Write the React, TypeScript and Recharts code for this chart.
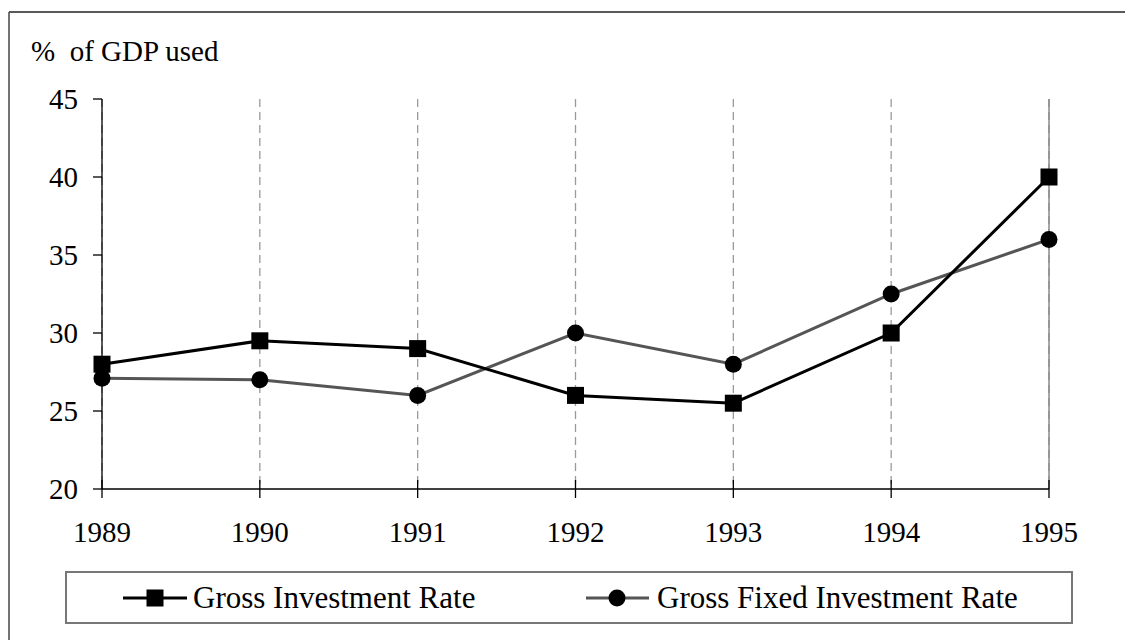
import React from "react";
import { LineChart, Line, XAxis, YAxis, CartesianGrid, ReferenceLine } from "recharts";

const years = ["1989", "1990", "1991", "1992", "1993", "1994", "1995"];
const grossInvestment = [28, 29.5, 29, 26, 25.5, 30, 40];
const grossFixedInvestment = [27.1, 27, 26, 30, 28, 32.5, 36];
const yTicks = [20, 25, 30, 35, 40, 45];
const seriesNames = ["Gross Investment Rate", "Gross Fixed Investment Rate"];
const yTitle = "%  of GDP used";

const data = years.map((y, i) => ({
  year: y,
  gross: grossInvestment[i],
  fixed: grossFixedInvestment[i],
}));

const FONT = '"Liberation Serif", "Times New Roman", Times, serif';
const FS = 29;
const LEG_FS = 31;

const SquareDot = (props: any) => {
  const { cx, cy } = props;
  if (cx == null || cy == null) return null;
  const s = 17;
  return <rect x={cx - s / 2} y={cy - s / 2} width={s} height={s} fill="#000" />;
};

const CircleDot = (props: any) => {
  const { cx, cy } = props;
  if (cx == null || cy == null) return null;
  return <circle cx={cx} cy={cy} r={8.5} fill="#000" />;
};

const XTick = (props: any) => {
  const { x, y, payload } = props;
  return (
    <g>
      <line x1={x} x2={x} y1={y - 9} y2={y + 9} stroke="#000" strokeWidth={1.3} />
      <text x={x} y={y + 53} textAnchor="middle" fontFamily={FONT} fontSize={FS} fill="#000">
        {payload.value}
      </text>
    </g>
  );
};

export default function App() {
  return (
    <div style={{ position: "absolute", left: 0, top: 0, width: 1125, height: 640, background: "#fff" }}>
      <LineChart
        width={1125}
        height={640}
        data={data}
        margin={{ top: 99, right: 76, bottom: 0, left: 12 }}
      >
        <CartesianGrid horizontal={false} vertical={true} stroke="#9a9a9a" strokeDasharray="8 5" strokeWidth={1.3} />
        <ReferenceLine x="1995" stroke="#8a8a8a" strokeWidth={1.5} />
        <XAxis
          dataKey="year"
          height={151}
          axisLine={{ stroke: "#000", strokeWidth: 1.3 }}
          tickLine={false}
          tickSize={0}
          tickMargin={0}
          tick={<XTick />}
          interval={0}
        />
        <YAxis
          width={90}
          domain={[20, 45]}
          ticks={yTicks}
          axisLine={{ stroke: "#000", strokeWidth: 1.3 }}
          tickLine={{ stroke: "#000", strokeWidth: 1.3 }}
          tickSize={9}
          tickMargin={15}
          tick={{ fontFamily: FONT, fontSize: FS, fill: "#000" }}
        />
        <Line
          type="linear"
          dataKey="fixed"
          stroke="#555"
          strokeWidth={3}
          dot={<CircleDot />}
          activeDot={false}
          isAnimationActive={false}
        />
        <Line
          type="linear"
          dataKey="gross"
          stroke="#000"
          strokeWidth={3}
          dot={<SquareDot />}
          activeDot={false}
          isAnimationActive={false}
        />
      </LineChart>
      <svg
        width={1125}
        height={640}
        style={{ position: "absolute", left: 0, top: 0, pointerEvents: "none" }}
      >
        <line x1={9} y1={12} x2={1125} y2={12} stroke="#222" strokeWidth={1.5} />
        <line x1={9} y1={12} x2={9} y2={640} stroke="#444" strokeWidth={1.5} />
        <text x={31} y={61} fontFamily={FONT} fontSize={FS} fill="#000" style={{ whiteSpace: "pre" }}>
          {yTitle}
        </text>
        <rect x={66} y={572} width={1006} height={51} fill="#fff" stroke="#777" strokeWidth={2} />
        <line x1={123} y1={598} x2={187} y2={598} stroke="#000" strokeWidth={3} />
        <rect x={155 - 8.5} y={598 - 8.5} width={17} height={17} fill="#000" />
        <text x={193} y={608} fontFamily={FONT} fontSize={LEG_FS} fill="#000">
          {seriesNames[0]}
        </text>
        <line x1={586} y1={598} x2={649} y2={598} stroke="#555" strokeWidth={3} />
        <circle cx={617} cy={598} r={8.5} fill="#000" />
        <text x={657} y={608} fontFamily={FONT} fontSize={LEG_FS} fill="#000">
          {seriesNames[1]}
        </text>
      </svg>
    </div>
  );
}
